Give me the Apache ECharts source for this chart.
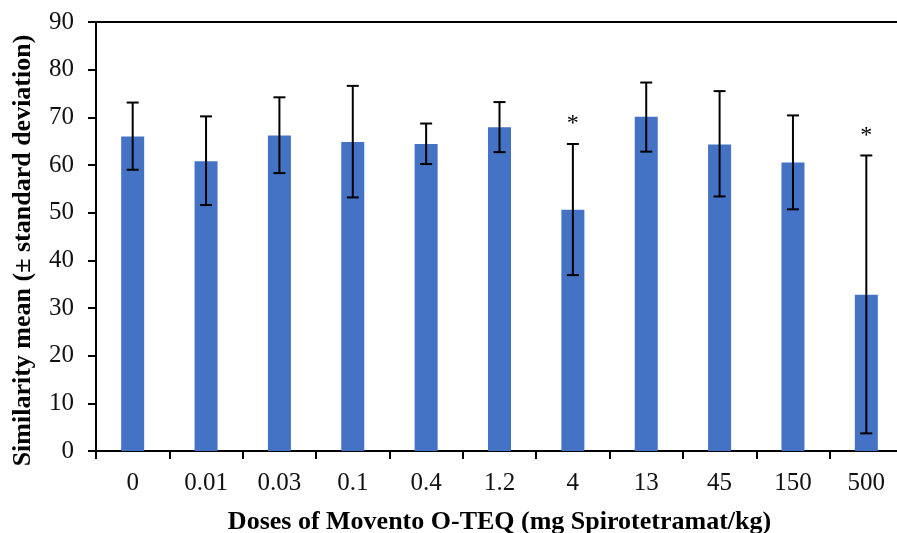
<!DOCTYPE html>
<html>
<head>
<meta charset="utf-8">
<script src="https://cdn.jsdelivr.net/npm/echarts@6/dist/echarts.min.js"></script>
<style>
html,body{margin:0;padding:0;background:#fff;}
#chart{width:897px;height:533px;}
</style>
</head>
<body>
<div id="chart"></div>
<script>
// doses (mg Spirotetramat/kg)
var doses=['0','0.01','0.03','0.1','0.4','1.2','4','13','45','150','500'];
var means=[66,60.8,66.2,64.8,64.4,67.9,50.6,70.1,64.3,60.5,32.8];
var errHigh=[73.1,70.2,74.2,76.6,68.7,73.2,64.4,77.3,75.5,70.4,62.0];
var errLow=[59.0,51.6,58.3,53.2,60.2,62.7,36.9,62.8,53.4,50.7,3.7];
var stars=['','','','','','','*','','','','*'];
var yTicks=[0,10,20,30,40,50,60,70,80,90];

var font='"Liberation Serif","Times New Roman",serif';

var errData=[];
for(var i=0;i<doses.length;i++){
    errData.push([i,errLow[i],errHigh[i],stars[i]]);
}

var chart=echarts.init(document.getElementById('chart'));
var option={
    animation:false,
    grid:{left:96,top:22,width:807,height:429,outerBoundsMode:'none',containLabel:false},
    xAxis:[{
        type:'category',
        data:doses,
        name:'Doses of Movento O-TEQ (mg Spirotetramat/kg)',
        nameLocation:'middle',
        nameGap:58,
        nameTextStyle:{fontFamily:font,fontWeight:'bold',fontSize:26,color:'#000'},
        axisLine:{lineStyle:{color:'#000',width:2}},
        axisTick:{show:true,length:8,lineStyle:{color:'#000',width:2}},
        axisLabel:{fontFamily:font,fontSize:25,color:'#111',margin:20}
    },{
        type:'category',
        position:'top',
        data:doses,
        axisLine:{lineStyle:{color:'#000',width:2}},
        axisTick:{show:false},
        axisLabel:{show:false}
    }],
    yAxis:{
        type:'value',
        min:yTicks[0],
        max:yTicks[yTicks.length-1],
        interval:10,
        name:'Similarity mean (± standard deviation)',
        nameLocation:'middle',
        nameGap:60,
        nameTextStyle:{fontFamily:font,fontWeight:'bold',fontSize:26,color:'#000',padding:[0,0,0,-28]},
        axisLine:{show:true,lineStyle:{color:'#000',width:2}},
        axisTick:{show:true,length:8,lineStyle:{color:'#000',width:2}},
        axisLabel:{fontFamily:font,fontSize:25,color:'#111',margin:22},
        splitLine:{show:false}
    },
    series:[{
        type:'bar',
        data:means,
        barWidth:23,
        itemStyle:{color:'#4472C4'}
    },{
        type:'custom',
        data:errData,
        z:10,
        renderItem:function(params,api){
            var lo=api.coord([api.value(0),api.value(1)]);
            var hi=api.coord([api.value(0),api.value(2)]);
            var w=6;
            var st={stroke:'#000',lineWidth:2};
            var kids=[
                {type:'line',shape:{x1:hi[0],y1:hi[1],x2:lo[0],y2:lo[1]},style:st},
                {type:'line',shape:{x1:hi[0]-w,y1:hi[1],x2:hi[0]+w,y2:hi[1]},style:st},
                {type:'line',shape:{x1:lo[0]-w,y1:lo[1],x2:lo[0]+w,y2:lo[1]},style:st}
            ];
            var s=stars[params.dataIndex];
            if(s){
                kids.push({type:'text',style:{text:s,x:hi[0],y:hi[1]-8,align:'center',verticalAlign:'bottom',
                    fill:'#000',font:'24px '+font}});
            }
            return {type:'group',children:kids};
        }
    }]
};
chart.setOption(option);
</script>
</body>
</html>
